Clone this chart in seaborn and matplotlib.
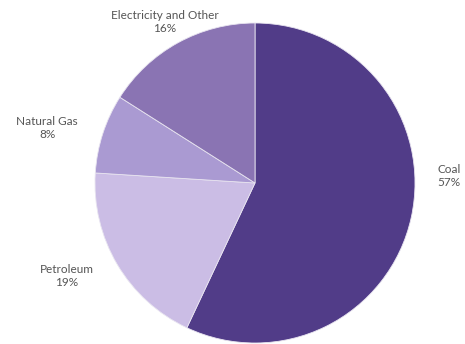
import matplotlib
matplotlib.use("Agg")
import matplotlib.pyplot as plt
import seaborn as sns

categories = ["Coal", "Petroleum", "Natural Gas", "Electricity and Other"]
values = [57, 19, 8, 16]
colors = ["#513C88", "#CBBDE5", "#AA9AD2", "#8A74B3"]

sns.set_theme(style="white")
plt.rcParams['font.family'] = ['Lato', 'DejaVu Sans']

W, H = 465, 344
fig = plt.figure(figsize=(W / 100, H / 100), dpi=100)
cx, cy, r = 255, 183, 160
ax = fig.add_axes([(cx - r) / W, (H - cy - r) / H, 2 * r / W, 2 * r / H])

palette = sns.color_palette(colors)
wedges, texts = ax.pie(values, labels=[f"{c}\n{v}%" for c, v in zip(categories, values)],
                       colors=palette, startangle=90, counterclock=False, radius=1,
                       wedgeprops=dict(edgecolor="#E8E4F0", linewidth=0.6),
                       textprops=dict(color="#555555", fontsize=8.5, ha="center", va="center",
                                      linespacing=1.25))
label_pos = [(1.2125, 0.044), (-1.175, -0.58), (-1.3, 0.344), (-0.5625, 1.006)]
for t, (x, y) in zip(texts, label_pos):
    t.set_position((x, y))
    t.set_ha("center")
    t.set_va("center")
    t.set_clip_on(False)

ax.set_xlim(-1, 1)
ax.set_ylim(-1, 1)
ax.set_aspect("equal")
ax.axis("off")
fig.savefig("out.png", dpi=100)
